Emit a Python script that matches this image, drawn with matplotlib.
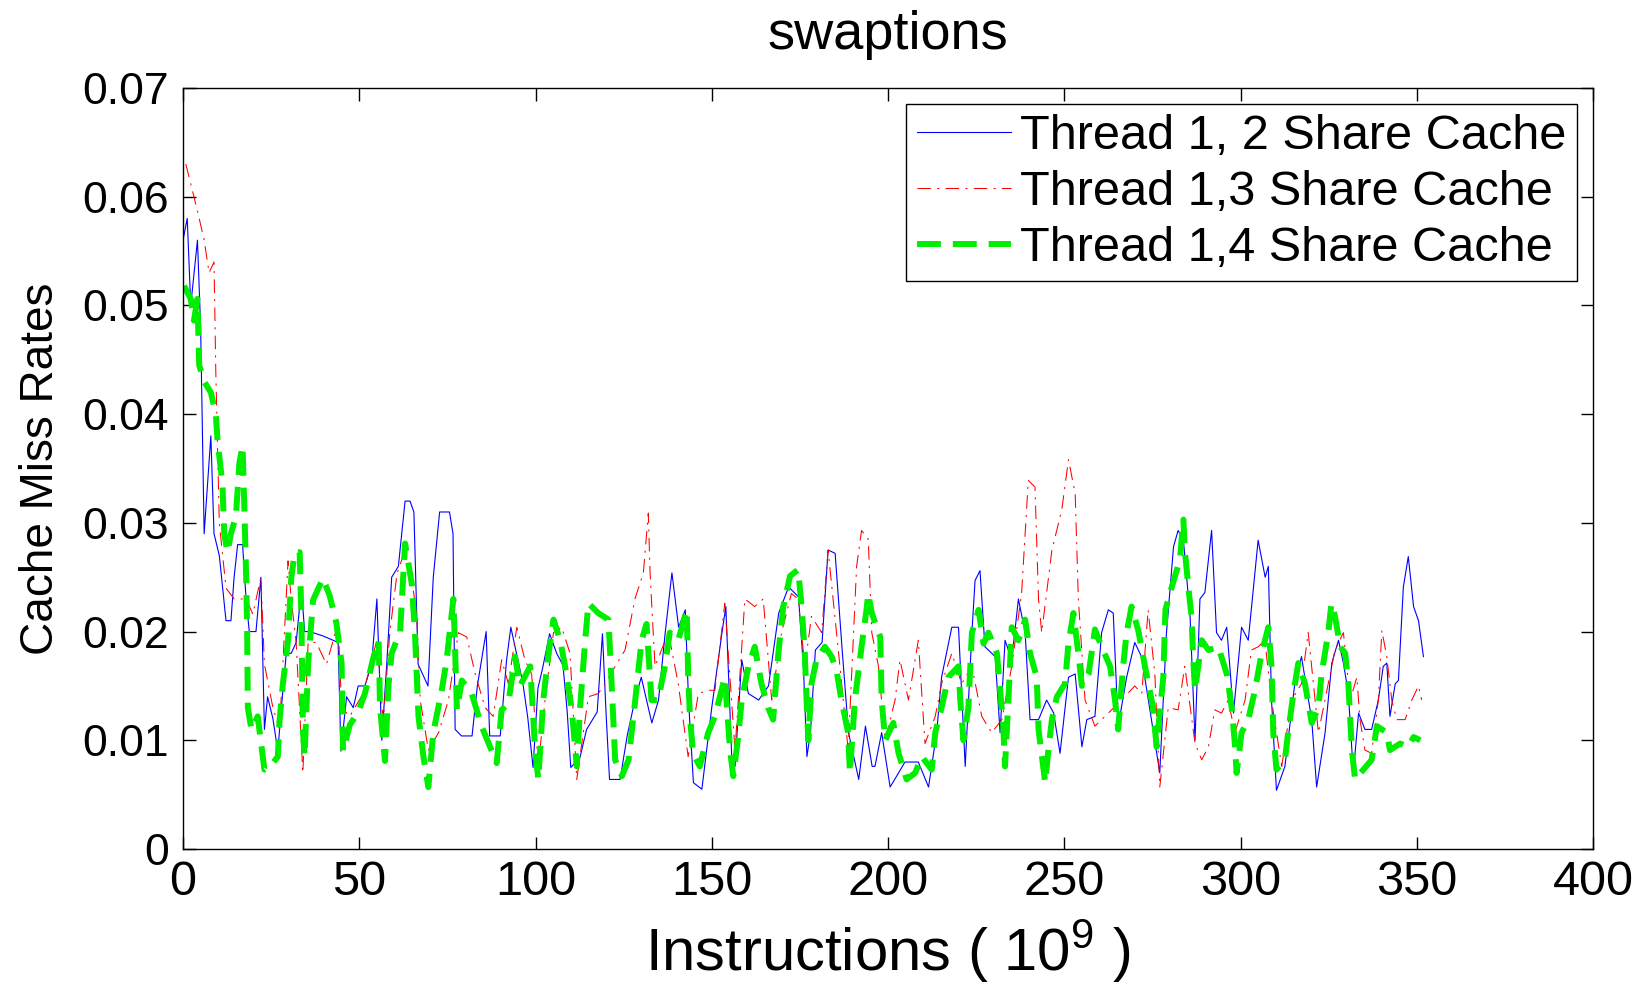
import matplotlib
matplotlib.use("Agg")
import matplotlib.pyplot as plt

plt.rcParams['font.family'] = ['Liberation Sans', 'DejaVu Sans']
plt.rcParams['mathtext.fontset'] = 'custom'
plt.rcParams['mathtext.rm'] = 'Liberation Sans'
plt.rcParams['mathtext.it'] = 'Liberation Sans'

# Thread 1,2 share cache (blue, solid)
blue_x = [0, 1.2, 2.2, 4.1, 5.0, 6.0, 7.9, 8.8, 10.3, 12.2, 13.6, 14.5, 15.5, 16.9, 17.9, 18.8, 20.7, 22.1, 23.1, 24.0,
          25.5, 26.9, 27.9, 29.3, 30.7, 32.1, 33.6, 34.5, 35.9, 39.7, 44.0, 44.8, 46.4, 48.3, 49.7, 51.6, 53.5, 55.0, 56.4, 57.8,
          59.2, 61.1, 63.0, 64.4, 65.5, 66.7, 69.5, 71.0, 72.8, 75.6, 76.6, 77.2, 79.0, 82.0, 83.5, 86.0, 87.0, 90.0, 91.8, 93.0,
          96.4, 97.8, 99.3, 100.7, 102.0, 104.0, 106.0, 107.8, 109.0, 110.0, 112.6, 114.5, 117.5, 119.0, 120.0, 121.0, 124.0, 126.0, 128.2, 130.0,
          133.0, 134.9, 136.8, 138.7, 140.6, 142.5, 143.4, 144.8, 147.2, 150.0, 152.9, 154.0, 155.7, 156.6, 158.5, 160.4, 163.3, 166.1, 169.0, 171.8,
          174.6, 176.0, 177.0, 178.0, 179.4, 181.3, 183.0, 185.0, 187.0, 188.8, 191.7, 193.6, 195.5, 196.3, 198.2, 200.6, 203.0, 204.8, 208.6, 211.5,
          213.8, 215.2, 218.1, 220.0, 221.9, 223.8, 224.7, 226.1, 227.5, 230.4, 231.8, 233.2, 235.1, 237.0, 238.9, 240.3, 242.7, 245.0, 247.0, 248.8,
          251.2, 253.1, 255.0, 256.4, 258.7, 260.6, 262.5, 263.9, 265.3, 267.7, 270.0, 271.9, 274.3, 277.1, 279.0, 281.0, 282.3, 283.8, 285.7, 287.1,
          288.5, 289.9, 291.8, 293.2, 294.6, 296.1, 298.0, 300.3, 302.2, 305.0, 307.0, 307.9, 308.8, 310.2, 312.6, 315.4, 317.3, 320.2, 321.6, 324.0,
          325.9, 327.8, 329.2, 330.6, 332.0, 333.5, 335.3, 337.2, 339.1, 340.5, 341.5, 342.4, 343.9, 344.8, 346.2, 347.6, 349.1, 350.5, 351.9]
blue_y = [0.056, 0.058, 0.050, 0.056, 0.048, 0.029, 0.038, 0.029, 0.027, 0.021, 0.021, 0.025, 0.028, 0.028, 0.023, 0.020, 0.020, 0.025, 0.011, 0.014,
          0.012, 0.009, 0.013, 0.018, 0.018, 0.019, 0.024, 0.020, 0.020, 0.0196, 0.019, 0.009, 0.014, 0.013, 0.015, 0.015, 0.017, 0.023, 0.010, 0.017,
          0.025, 0.026, 0.032, 0.032, 0.031, 0.017, 0.015, 0.025, 0.031, 0.031, 0.029, 0.011, 0.0104, 0.0104, 0.015, 0.020, 0.0104, 0.0104, 0.0174, 0.0204,
          0.0153, 0.0121, 0.0075, 0.0148, 0.0166, 0.0198, 0.018, 0.0169, 0.0126, 0.0075, 0.0084, 0.011, 0.0126, 0.0198, 0.0126, 0.0064, 0.0064, 0.0104, 0.0137, 0.0158,
          0.0116, 0.0137, 0.0199, 0.0254, 0.0204, 0.022, 0.0137, 0.0061, 0.0055, 0.013, 0.0199, 0.0223, 0.0082, 0.0076, 0.0174, 0.0143, 0.0137, 0.015, 0.0217, 0.0241,
          0.0232, 0.0168, 0.0085, 0.0107, 0.0183, 0.019, 0.0275, 0.0272, 0.0183, 0.0107, 0.0064, 0.0113, 0.0076, 0.0076, 0.0107, 0.0057, 0.007, 0.008, 0.008, 0.0057,
          0.0107, 0.0158, 0.0204, 0.0204, 0.0076, 0.0199, 0.0247, 0.0256, 0.0186, 0.0177, 0.0107, 0.0192, 0.0174, 0.023, 0.0199, 0.0119, 0.0119, 0.0137, 0.0125, 0.0088,
          0.0158, 0.0161, 0.0094, 0.0119, 0.0122, 0.0199, 0.022, 0.0217, 0.0113, 0.0158, 0.019, 0.0177, 0.0128, 0.007, 0.0199, 0.0278, 0.0293, 0.0284, 0.0214, 0.010,
          0.023, 0.0236, 0.0293, 0.0199, 0.0192, 0.0204, 0.0125, 0.0204, 0.0192, 0.0284, 0.025, 0.026, 0.0137, 0.0054, 0.0076, 0.0152, 0.0177, 0.0119, 0.0057, 0.0107,
          0.0171, 0.0192, 0.0171, 0.0143, 0.007, 0.0125, 0.011, 0.011, 0.0137, 0.0168, 0.0171, 0.0122, 0.0152, 0.0155, 0.0241, 0.0269, 0.0223, 0.021, 0.0177]

# Thread 1,3 share cache (red, dash-dot)
red_x = [0.8, 3.1, 4.6, 6.0, 7.4, 8.8, 9.3, 10.3, 12.2, 14.5, 17.9, 19.8, 22.1, 23.1, 25.5, 27.4, 29.8, 30.7, 32.1, 34.0,
         35.5, 37.8, 40.7, 44.0, 45.0, 47.3, 51.1, 55.0, 56.8, 58.7, 60.7, 63.0, 64.9, 66.3, 67.3, 69.6, 72.5, 75.3, 78.1, 80.5,
         82.9, 85.7, 88.0, 90.4, 92.3, 94.7, 97.0, 98.9, 100.8, 102.7, 105.1, 107.4, 109.8, 111.7, 115.0, 117.8, 119.7, 122.6, 125.4, 128.2,
         130.6, 132.0, 132.5, 133.9, 137.7, 140.5, 143.3, 146.2, 149.0, 150.9, 153.7, 156.6, 159.4, 162.2, 164.6, 167.0, 169.8, 172.6, 174.5, 176.4,
         178.3, 181.2, 183.0, 185.9, 188.7, 191.1, 192.5, 194.4, 195.4, 197.3, 199.2, 202.0, 203.4, 205.8, 208.6, 210.5, 213.4, 215.2, 218.1, 220.9,
         223.8, 226.6, 229.4, 232.3, 235.1, 237.9, 239.8, 241.7, 242.7, 243.6, 246.5, 249.3, 251.2, 253.1, 254.0, 255.9, 258.7, 262.5, 266.3, 270.0,
         272.0, 273.8, 275.7, 277.1, 279.5, 282.3, 284.2, 287.1, 289.0, 290.9, 292.7, 294.6, 296.5, 298.4, 301.3, 303.1, 305.0, 306.9, 308.8, 311.7,
         314.5, 317.3, 319.2, 322.1, 324.9, 326.8, 329.2, 331.1, 333.0, 333.9, 335.3, 337.2, 339.1, 340.1, 341.5, 342.9, 344.3, 346.7, 348.6, 350.5, 351.4]
red_y = [0.063, 0.060, 0.058, 0.056, 0.053, 0.054, 0.044, 0.030, 0.024, 0.023, 0.023, 0.0216, 0.025, 0.017, 0.013, 0.011, 0.0265, 0.023, 0.019, 0.007,
         0.019, 0.019, 0.017, 0.0208, 0.013, 0.0122, 0.0143, 0.0192, 0.0118, 0.020, 0.0253, 0.0275, 0.0247, 0.0217, 0.0137, 0.0091, 0.0107, 0.0137, 0.0199, 0.0195,
         0.0161, 0.013, 0.0122, 0.0174, 0.0152, 0.0204, 0.0174, 0.0161, 0.0076, 0.0137, 0.0199, 0.0204, 0.018, 0.0064, 0.014, 0.0143, 0.0152, 0.0168, 0.0183, 0.023,
         0.0254, 0.0309, 0.0254, 0.0168, 0.0199, 0.0152, 0.0085, 0.0143, 0.0146, 0.0146, 0.0226, 0.0091, 0.023, 0.0223, 0.023, 0.0137, 0.0199, 0.0235, 0.023, 0.0168,
         0.0214, 0.0199, 0.0275, 0.0183, 0.0091, 0.026, 0.0293, 0.0285, 0.0199, 0.0168, 0.010, 0.0137, 0.0174, 0.0137, 0.0192, 0.0097, 0.0122, 0.0152, 0.018, 0.0152,
         0.0168, 0.0122, 0.0107, 0.0119, 0.0168, 0.0235, 0.0339, 0.0333, 0.023, 0.0199, 0.0275, 0.0312, 0.0358, 0.0327, 0.023, 0.0137, 0.0113, 0.0125, 0.0137, 0.015,
         0.0143, 0.022, 0.0161, 0.0057, 0.013, 0.0128, 0.0168, 0.0097, 0.0082, 0.0094, 0.0128, 0.0125, 0.0137, 0.0107, 0.0137, 0.0183, 0.0186, 0.0192, 0.0137, 0.0076,
         0.0137, 0.0152, 0.0199, 0.0107, 0.0152, 0.0183, 0.0199, 0.0137, 0.0158, 0.0119, 0.0091, 0.0088, 0.0137, 0.0201, 0.0177, 0.0137, 0.0119, 0.0119, 0.0137, 0.015, 0.0137]

# Thread 1,4 share cache (green, thick dashed)
green_x = [0.3, 2.2, 3.1, 4.1, 4.6, 6.0, 7.9, 9.3, 9.8, 11.2, 11.7, 12.6, 13.6, 15.0, 16.0, 16.9, 17.4, 17.9, 18.2, 18.4,
           19.4, 21.2, 23.1, 25.0, 26.9, 27.4, 28.3, 29.8, 30.7, 31.7, 33.1, 33.6, 34.0, 34.5, 35.5, 36.9, 39.7, 41.6, 43.5, 45.0,
           45.4, 47.3, 49.7, 51.6, 54.0, 55.5, 55.9, 57.3, 58.3, 59.2, 61.6, 63.0, 64.9, 65.8, 66.8, 68.2, 69.6, 71.0, 73.4, 74.8,
           76.7, 77.2, 77.7, 79.1, 81.9, 84.7, 87.1, 89.0, 90.4, 92.3, 94.2, 95.6, 98.5, 99.9, 100.8, 102.2, 103.7, 105.1, 107.0, 108.4,
           110.3, 111.7, 112.6, 114.1, 115.0, 117.8, 120.7, 121.6, 122.6, 124.5, 126.4, 128.2, 130.1, 131.5, 132.9, 134.8, 136.7, 138.1, 140.5, 142.9,
           143.3, 143.8, 144.7, 146.6, 149.0, 150.9, 153.7, 155.2, 156.1, 157.5, 158.5, 160.4, 162.2, 164.1, 166.0, 167.4, 168.9, 170.3, 172.2, 174.5,
           175.5, 176.4, 176.9, 177.4, 178.3, 179.7, 182.1, 184.0, 185.4, 186.8, 188.7, 189.2, 190.6, 192.5, 193.9, 194.4, 195.4, 197.8, 198.2, 199.2,
           201.5, 203.0, 205.3, 207.7, 209.6, 212.4, 213.4, 215.2, 217.1, 220.0, 220.5, 221.4, 222.8, 223.8, 225.7, 227.1, 228.5, 230.9, 231.8, 232.7,
           233.2, 234.2, 235.1, 237.0, 238.9, 240.3, 242.2, 242.7, 244.6, 245.5, 246.5, 247.9, 250.2, 251.2, 252.6, 254.0, 255.0, 256.9, 258.7, 260.6,
           263.0, 264.4, 265.3, 266.7, 267.7, 269.1, 271.0, 272.9, 275.2, 276.2, 277.1, 278.1, 278.7, 280.5, 282.8, 283.8, 284.2, 285.2, 286.1, 286.6,
           287.1, 289.0, 290.9, 293.7, 296.1, 297.5, 298.4, 298.9, 300.3, 302.2, 304.1, 306.0, 307.9, 308.8, 309.3, 310.2, 312.6, 313.5, 315.0, 316.4,
           318.3, 320.2, 322.1, 323.0, 324.9, 325.8, 326.8, 328.3, 329.7, 330.6, 331.1, 331.6, 332.5, 337.2, 338.7, 341.5, 342.4, 345.3, 347.6, 349.1, 351.0]
green_y = [0.0518, 0.0506, 0.0486, 0.0506, 0.0445, 0.043, 0.042, 0.040, 0.0376, 0.0335, 0.029, 0.0273, 0.029, 0.0306, 0.0355, 0.0371, 0.0314, 0.0253, 0.020, 0.013,
           0.011, 0.0122, 0.0073, 0.0077, 0.0085, 0.0118, 0.0151, 0.0192, 0.0249, 0.0273, 0.0273, 0.0212, 0.011, 0.0085, 0.0171, 0.0229, 0.0249, 0.0233, 0.0208, 0.0171,
           0.009, 0.0114, 0.0126, 0.0143, 0.0176, 0.0192, 0.013, 0.0081, 0.0151, 0.018, 0.020, 0.0281, 0.0244, 0.0199, 0.0122, 0.0085, 0.0057, 0.0107, 0.0146, 0.0174,
           0.023, 0.0183, 0.0128, 0.0155, 0.0143, 0.0113, 0.0094, 0.0079, 0.0128, 0.0134, 0.0177, 0.015, 0.0168, 0.0091, 0.0064, 0.0137, 0.018, 0.0211, 0.0192, 0.0168,
           0.0128, 0.0076, 0.0128, 0.0192, 0.0226, 0.0217, 0.0211, 0.0152, 0.0082, 0.0067, 0.0082, 0.0134, 0.0192, 0.0207, 0.0137, 0.0137, 0.0168, 0.0199, 0.0192, 0.022,
           0.0161, 0.0122, 0.0088, 0.0076, 0.0107, 0.0122, 0.0158, 0.0091, 0.0067, 0.0103, 0.0137, 0.0168, 0.0186, 0.0152, 0.013, 0.0119, 0.018, 0.0223, 0.0251, 0.0257,
           0.0223, 0.018, 0.0137, 0.010, 0.0152, 0.0174, 0.0186, 0.0177, 0.0164, 0.0137, 0.0107, 0.007, 0.0137, 0.0186, 0.022, 0.0235, 0.0217, 0.0195, 0.0137, 0.010,
           0.0116, 0.0088, 0.0064, 0.007, 0.0085, 0.0073, 0.0107, 0.013, 0.0158, 0.0168, 0.0137, 0.010, 0.013, 0.0199, 0.022, 0.0189, 0.0199, 0.018, 0.0146, 0.0113,
           0.0076, 0.014, 0.0204, 0.0192, 0.0211, 0.018, 0.0158, 0.011, 0.0061, 0.0091, 0.0119, 0.014, 0.0152, 0.0189, 0.0217, 0.018, 0.015, 0.0161, 0.0202, 0.0186,
           0.0168, 0.0137, 0.011, 0.0168, 0.0199, 0.0223, 0.0201, 0.0168, 0.013, 0.0094, 0.0125, 0.0158, 0.022, 0.0241, 0.0266, 0.0303, 0.0275, 0.0241, 0.0214, 0.0174,
           0.0146, 0.0192, 0.0183, 0.0186, 0.0161, 0.013, 0.0097, 0.007, 0.0107, 0.0119, 0.0146, 0.018, 0.0204, 0.0168, 0.0107, 0.0073, 0.0082, 0.0107, 0.0143, 0.0171,
           0.0152, 0.0116, 0.013, 0.0161, 0.0199, 0.0226, 0.0214, 0.0186, 0.018, 0.0152, 0.0122, 0.0091, 0.0064, 0.0082, 0.0113, 0.0107, 0.0091, 0.0097, 0.0094, 0.0103, 0.010]

labels = ['Thread 1, 2 Share Cache', 'Thread 1,3 Share Cache', 'Thread 1,4 Share Cache']
x_ticks = [0, 50, 100, 150, 200, 250, 300, 350, 400]
y_ticks = [0, 0.01, 0.02, 0.03, 0.04, 0.05, 0.06, 0.07]
y_tick_labels = ['0', '0.01', '0.02', '0.03', '0.04', '0.05', '0.06', '0.07']

fig = plt.figure(figsize=(16.42, 9.9), dpi=100)
ax = fig.add_axes([183 / 1642, 1 - 849 / 990, 1410 / 1642, 761 / 990])

ax.plot(blue_x, blue_y, color='blue', lw=0.8, label=labels[0])
ax.plot(red_x, red_y, color='red', lw=0.75, linestyle=(0, (13, 6, 2, 6)), label=labels[1])
ax.plot(green_x, green_y, color='#00ee00', lw=4.3, linestyle=(0, (4, 2)), label=labels[2])

ax.set_xlim(0, 400)
ax.set_ylim(0, 0.07)
ax.set_xticks(x_ticks)
ax.set_yticks(y_ticks)
ax.set_yticklabels(y_tick_labels)
ax.tick_params(direction='in', length=9, width=1, top=True, right=True)
ax.tick_params(axis='x', labelsize=35, pad=8)
ax.tick_params(axis='y', labelsize=32, pad=10)
for s in ax.spines.values():
    s.set_linewidth(1)

ax.set_title('swaptions', fontsize=39, pad=28)
ax.set_xlabel(r'Instructions ( 10$^{9}$ )', fontsize=43, labelpad=9)
ax.set_ylabel('Cache Miss Rates', fontsize=33, labelpad=14)

leg = ax.legend(loc='upper right', fontsize=35, handlelength=1.93, handletextpad=0.2,
                labelspacing=0.22, borderpad=0.22, borderaxespad=0.32, fancybox=False,
                framealpha=1, edgecolor='black')
leg.get_frame().set_linewidth(1)

fig.savefig('out.png', dpi=100)
